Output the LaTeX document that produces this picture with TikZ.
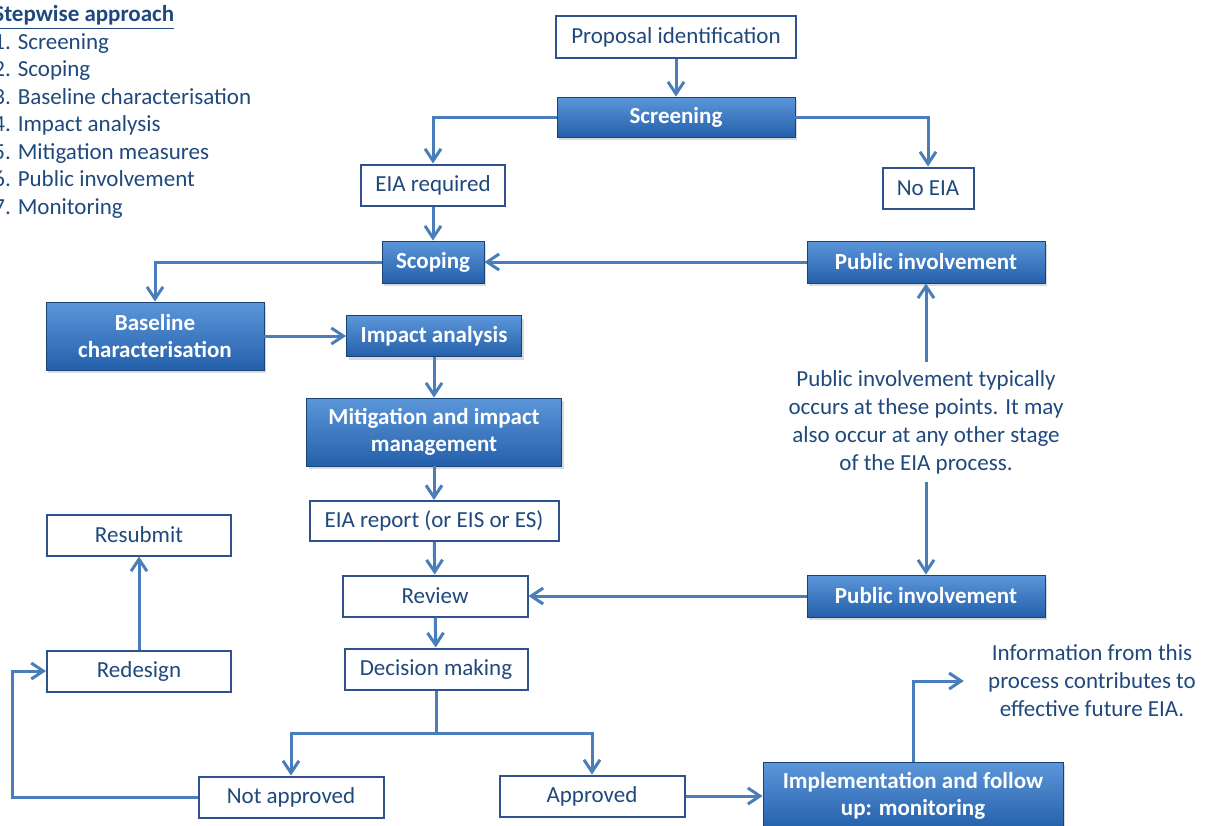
\documentclass[tikz,border=0pt]{standalone}
\usepackage{fontspec}
\setmainfont{Carlito}
\usetikzlibrary{arrows.meta,positioning,shadows}
\definecolor{linkblue}{RGB}{74,126,187}
\definecolor{textblue}{RGB}{31,73,125}
\definecolor{edgeblue}{RGB}{47,82,143}
\definecolor{boxtop}{RGB}{92,150,218}
\definecolor{boxbot}{RGB}{36,96,170}

\begin{document}
\begin{tikzpicture}[x=0.5pt, y=-0.5pt,
  plain/.style={draw=edgeblue, line width=1pt, fill=white, text=textblue, font=\fontsize{11.5}{13}\selectfont, align=center, inner sep=1pt},
  stage/.style={draw=boxbot!70!black, line width=0.4pt, top color=boxtop, bottom color=boxbot, text=white, font=\fontsize{11.5}{13.5}\selectfont\bfseries, align=center, inner sep=1pt, drop shadow={shadow xshift=1.2pt, shadow yshift=-1.5pt, opacity=0.3}},
  note/.style={text=textblue, font=\fontsize{11.5}{14}\selectfont, align=center},
  wh/.style 2 args={minimum width=#1, minimum height=#2},
  ptr/.style={-{Straight Barb[length=6pt, width=8pt]}, linkblue, line width=1.5pt},
  link/.style={linkblue, line width=1.5pt}
]
  \useasboundingbox (0,0) rectangle (1205,825);
  \clip (0,0) rectangle (1205,825);

  % legend
  \node[note, align=left, anchor=north west, inner sep=0pt, font=\fontsize{11.5}{13.75}\selectfont] (steps) at (-7,5)
    {\textbf{\underline{Stepwise approach}}\\
     1. Screening\\ 2. Scoping\\ 3. Baseline characterisation\\ 4. Impact analysis\\
     5. Mitigation measures\\ 6. Public involvement\\ 7. Monitoring};

  % main column
  \node[plain, wh={120pt}{21pt}] (prop) at (676,37) {Proposal identification};
  \node[stage, wh={119pt}{20pt}] (screen) at (676,117) {Screening};
  \node[plain, wh={72pt}{20.5pt}] (eiareq) at (433,185) {EIA required};
  \node[plain, wh={45.5pt}{20.5pt}] (noeia) at (928,188) {No EIA};
  \node[stage, wh={51pt}{21pt}] (scoping) at (433,262) {Scoping};
  \node[stage, wh={119pt}{21pt}] (pubtop) at (926,262) {Public involvement};
  \node[stage, wh={109pt}{34pt}] (baseline) at (155,336) {Baseline\\characterisation};
  \node[stage, wh={87.5pt}{20.5pt}] (impact) at (434,336) {Impact analysis};
  \node[stage, wh={127.5pt}{34pt}] (mitig) at (434,432) {Mitigation and impact\\management};
  \node[plain, wh={124.5pt}{20pt}] (report) at (434,521) {EIA report (or EIS or ES)};
  \node[plain, wh={92.5pt}{20.5pt}] (review) at (435,596) {Review};
  \node[stage, wh={119pt}{21pt}] (pubbot) at (926,596) {Public involvement};
  \node[plain, wh={91.5pt}{20.5pt}] (decision) at (436,669) {Decision making};
  \node[plain, wh={92pt}{20.5pt}] (resubmit) at (139,535) {Resubmit};
  \node[plain, wh={92pt}{20.5pt}] (redesign) at (139,671) {Redesign};
  \node[plain, wh={92.5pt}{20.5pt}] (notappr) at (291,797) {Not approved};
  \node[plain, wh={92.5pt}{20.5pt}] (appr) at (592,796) {Approved};
  \node[stage, wh={150pt}{34pt}] (impl) at (913,796) {Implementation and follow\\up: monitoring};

  % notes
  \node[note, inner sep=4pt] (pubnote) at (926,422)
    {Public involvement typically\\occurs at these points. It may\\also occur at any other stage\\of the EIA process.};
  \node[note, inner xsep=12pt] (info) at (1092,681)
    {Information from this\\process contributes to\\effective future EIA.};

  % connectors
  \draw[ptr] (prop) -- (screen);
  \draw[ptr] (screen.west) -| (eiareq.north);
  \draw[ptr] (screen.east) -| (noeia.north);
  \draw[ptr] (eiareq) -- (scoping);
  \draw[ptr] (pubtop) -- (scoping);
  \draw[ptr] (scoping.west) -| (baseline.north);
  \draw[ptr] (baseline) -- (impact);
  \draw[ptr] (impact) -- (mitig);
  \draw[ptr] (mitig) -- (report);
  \draw[ptr] (report) -- (review);
  \draw[ptr] (review) -- (decision);
  \draw[ptr] (pubnote) -- (pubtop);
  \draw[ptr] (pubnote) -- (pubbot);
  \draw[ptr] (pubbot) -- (review);
  \draw[link] (decision.south) -- ++(0,43) coordinate (split);
  \draw[ptr] (split) -| (notappr.north);
  \draw[ptr] (split) -| (appr.north);
  \draw[ptr] (notappr.west) -- ++(-185,0) |- (redesign.west);
  \draw[ptr] (redesign) -- (resubmit);
  \draw[ptr] (appr) -- (impl);
  \draw[ptr] (impl.north) |- (info.west);
\end{tikzpicture}
\end{document}
